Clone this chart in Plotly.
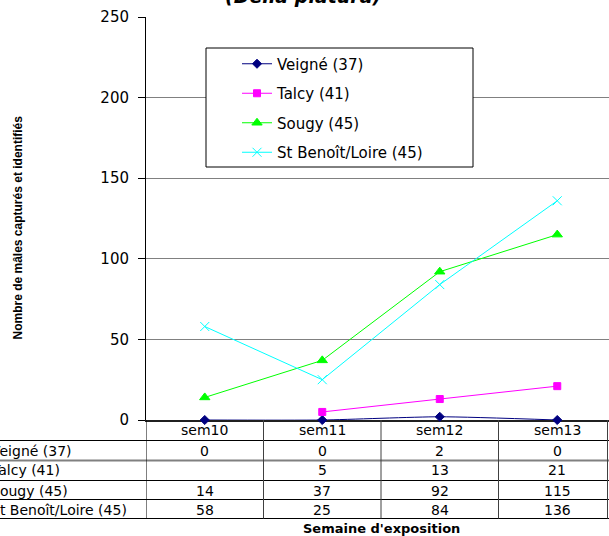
import plotly.graph_objects as go

categories = ["sem10", "sem11", "sem12", "sem13"]
series_names = ["Veigné (37)", "Talcy (41)", "Sougy (45)", "St Benoît/Loire (45)"]
veigne = [0, 0, 2, 0]
talcy = [None, 5, 13, 21]
sougy = [14, 37, 92, 115]
stbenoit = [58, 25, 84, 136]
y_ticks = [0, 50, 100, 150, 200, 250]

series_values = [veigne, talcy, sougy, stbenoit]
colors = ["#000080", "#FF00FF", "#00FF00", "#00FFFF"]
symbols = ["diamond", "square", "triangle-up", "x-thin-open"]
msizes = [7, 7, 9, 9]

W, H = 609, 536
L, R, T, B = 146, 0, 17, 116
pw, ph = W - L - R, H - T - B
FONT = "DejaVu Sans"


def px_x(X):
    return (X - L) / pw


def px_y(Y):
    return (H - B - Y) / ph


xs = list(range(len(categories)))
fig = go.Figure()
for i, (name, vals) in enumerate(zip(series_names, series_values)):
    fig.add_trace(go.Scatter(
        x=xs, y=vals, name=name, mode="lines+markers",
        line=dict(color=colors[i], width=1,
                  shape="spline" if i == 0 else "linear", smoothing=0.6),
        marker=dict(symbol=symbols[i], size=msizes[i], color=colors[i],
                    line=dict(color=colors[i], width=1)),
        cliponaxis=False, legendgroup=name, hoverinfo="skip",
    ))

shapes = []
# legend box
shapes.append(dict(type="rect", xref="paper", yref="paper",
                   x0=px_x(206), x1=px_x(473), y0=px_y(167), y1=px_y(48),
                   fillcolor="white", line=dict(color="black", width=1),
                   layer="above"))
# table horizontal lines
for Y, col, w in [(440.5, "black", 1), (460.5, "#808080", 2), (480.5, "black", 1),
                  (499.5, "black", 1), (518.5, "black", 1)]:
    shapes.append(dict(type="line", xref="paper", yref="paper",
                       x0=px_x(-20), x1=px_x(620), y0=px_y(Y), y1=px_y(Y),
                       line=dict(color=col, width=w)))
# table vertical lines at category boundaries
for b in [-0.5, 0.5, 1.5, 2.5]:
    shapes.append(dict(type="line", xref="x", yref="paper",
                       x0=b, x1=b, y0=px_y(420), y1=px_y(518.5),
                       line=dict(color="black" if b == -0.5 else "#404040", width=1)))
shapes.append(dict(type="line", xref="paper", yref="paper",
                   x0=px_x(607.5), x1=px_x(607.5), y0=px_y(420), y1=px_y(518.5),
                   line=dict(color="#404040", width=1)))

ann = []
tfont = dict(family=FONT, size=14, color="black")
for j, c in enumerate(categories):
    ann.append(dict(x=j, y=px_y(430), xref="x", yref="paper", text=c,
                    showarrow=False, font=tfont, xanchor="center", yanchor="middle"))
row_y = [450.5, 470.5, 490.5, 509.5]
for i, (name, vals) in enumerate(zip(series_names, series_values)):
    ann.append(dict(x=px_x(-11), y=px_y(row_y[i]), xref="paper", yref="paper",
                    text=name, showarrow=False, font=tfont,
                    xanchor="left", yanchor="middle"))
    for j, v in enumerate(vals):
        if v is None:
            continue
        ann.append(dict(x=j, y=px_y(row_y[i]), xref="x", yref="paper",
                        text=str(v), showarrow=False, font=tfont,
                        xanchor="center", yanchor="middle"))
ann.append(dict(x=px_x(381), y=px_y(528), xref="paper", yref="paper",
                text="<b>Semaine d'exposition</b>", showarrow=False,
                font=dict(family=FONT, size=13, color="black"),
                xanchor="center", yanchor="middle"))
ann.append(dict(x=px_x(17.5), y=px_y(228), xref="paper", yref="paper",
                text="<b>Nombre de mâles capturés et identifiés</b>", showarrow=False,
                textangle=-90,
                font=dict(family="Liberation Sans", size=12, color="black"),
                xanchor="center", yanchor="middle"))
ann.append(dict(x=px_x(303), y=px_y(9), xref="paper", yref="paper",
                text="<b><i>(Delia platura)</i></b>", showarrow=False,
                font=dict(family=FONT, size=19, color="black"),
                xanchor="center", yanchor="bottom"))

fig.update_layout(
    width=W, height=H, autosize=False,
    margin=dict(l=L, r=R, t=T, b=B, pad=0),
    paper_bgcolor="white", plot_bgcolor="white",
    showlegend=True, hovermode=False,
    legend=dict(x=px_x(237), y=px_y(47.5), xanchor="left", yanchor="top",
                bgcolor="rgba(0,0,0,0)", borderwidth=0,
                font=dict(family=FONT, size=15, color="black"),
                tracegroupgap=7, itemwidth=30),
    shapes=shapes, annotations=ann,
    xaxis=dict(range=[-0.5, -0.5 + pw / 117.5], showgrid=False, zeroline=False,
               showticklabels=False, ticks="", showline=True,
               linecolor="#202020", linewidth=2, layer="below traces",
               fixedrange=True),
    yaxis=dict(range=[0, 250], tickvals=y_ticks, showgrid=True,
               gridcolor="#808080", gridwidth=1, zeroline=False,
               showline=True, linecolor="black", linewidth=1,
               ticks="outside", ticklen=7, tickcolor="black",
               tickfont=dict(family=FONT, size=15, color="black"),
               ticklabelstandoff=6, layer="below traces", fixedrange=True),
)

fig.write_html("out.html", config={"displayModeBar": False, "staticPlot": True},
               post_script="document.body.style.margin='0';document.body.style.overflow='hidden';")
